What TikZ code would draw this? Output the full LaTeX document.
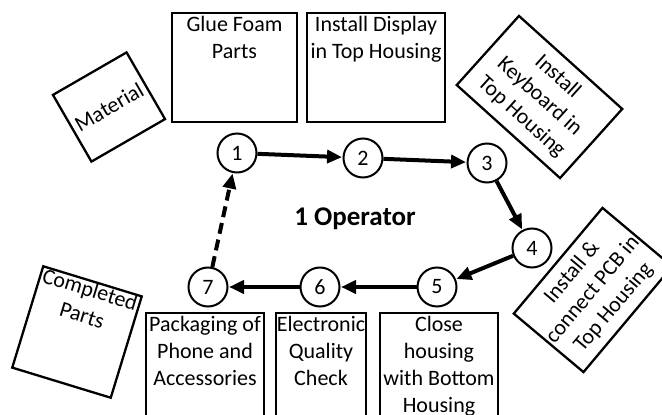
\documentclass[tikz,border=0pt]{standalone}
\usepackage{fontspec}
\setmainfont{Carlito}
\usetikzlibrary{arrows.meta}
\begin{document}
\begin{tikzpicture}[x=1pt,y=-1pt,
  boxshape/.style={draw, line width=2.3pt, inner sep=0pt},
  boxfont/.style={font=\fontsize{22}{27}\selectfont, align=center},
  boxtext/.style={boxfont, inner sep=0pt, anchor=north},
  num/.style={circle, draw, line width=2pt, minimum size=39pt, inner sep=0pt, font=\fontsize{22}{26}\selectfont},
  flow/.style={line width=4pt, -{Triangle[length=15pt,width=13pt]}, shorten >=0.5pt}
]
\path[use as bounding box, clip] (0,0) rectangle (662,415);
\fill[white] (0,0) rectangle (662,415);

% upright boxes
\node[boxshape, minimum width=125pt, minimum height=109pt] (glue) at (234.5,67.5) {};
\node[boxtext] (gluet) at ([yshift=-4.5pt]glue.north) {Glue Foam\\Parts};
\node[boxshape, minimum width=138pt, minimum height=109pt] (disp) at (376,67.5) {};
\node[boxtext] (dispt) at ([yshift=-4.5pt]disp.north) {Install Display\\in Top Housing};

\node[boxshape, minimum width=118pt, minimum height=127pt] (pack) at (205,376.5) {};
\node[boxtext] (packt) at ([yshift=-4.5pt]pack.north) {Packaging of\\Phone and\\Accessories};
\node[boxshape, minimum width=90pt, minimum height=127pt] (elec) at (321,376.5) {};
\node[boxtext] (elect) at ([yshift=-4.5pt]elec.north) {Electronic\\Quality\\Check};
\node[boxshape, minimum width=118pt, minimum height=127pt] (close) at (439,376.5) {};
\node[boxtext] (closet) at ([yshift=-4.5pt]close.north) {Close\\housing\\with Bottom\\Housing};

% rotated boxes
\node[boxshape, boxfont, rotate=30, minimum width=85pt, minimum height=77pt] (mat) at (109,107) {Material};
\node[boxshape, boxfont, rotate=-42, minimum width=139pt, minimum height=93pt] (kbd) at (539.5,97) {Install\\Keyboard in\\Top Housing};
\node[boxshape, boxfont, rotate=50, minimum width=138pt, minimum height=91pt] (pcb) at (593,290) {Install \&\\connect PCB in\\Top Housing};
\node[boxshape, rotate=-17, minimum width=103pt, minimum height=106pt] (comp) at (77,332) {};
\node[boxtext, rotate=-17, inner sep=1.5pt] (compt) at (comp.north) {Completed\\Parts};

% numbered steps
\node[num] (c1) at (237,153) {1};
\node[num] (c2) at (363,158) {2};
\node[num] (c3) at (487,163) {3};
\node[num] (c4) at (532,248) {4};
\node[num] (c5) at (437,287) {5};
\node[num] (c6) at (320,287) {6};
\node[num] (c7) at (208,287) {7};

\draw[flow] (c1) -- (c2);
\draw[flow] (c2) -- (c3);
\draw[flow] (c3) -- (c4);
\draw[flow] (c4) -- (c5);
\draw[flow] (c5) -- (c6);
\draw[flow] (c6) -- (c7);
\draw[flow, dash pattern=on 11pt off 6pt] (c7) -- (c1);

\node[font=\bfseries\fontsize{27}{31}\selectfont, anchor=base, inner sep=0pt] (op) at (355,225) {1 Operator};
\end{tikzpicture}
\end{document}
